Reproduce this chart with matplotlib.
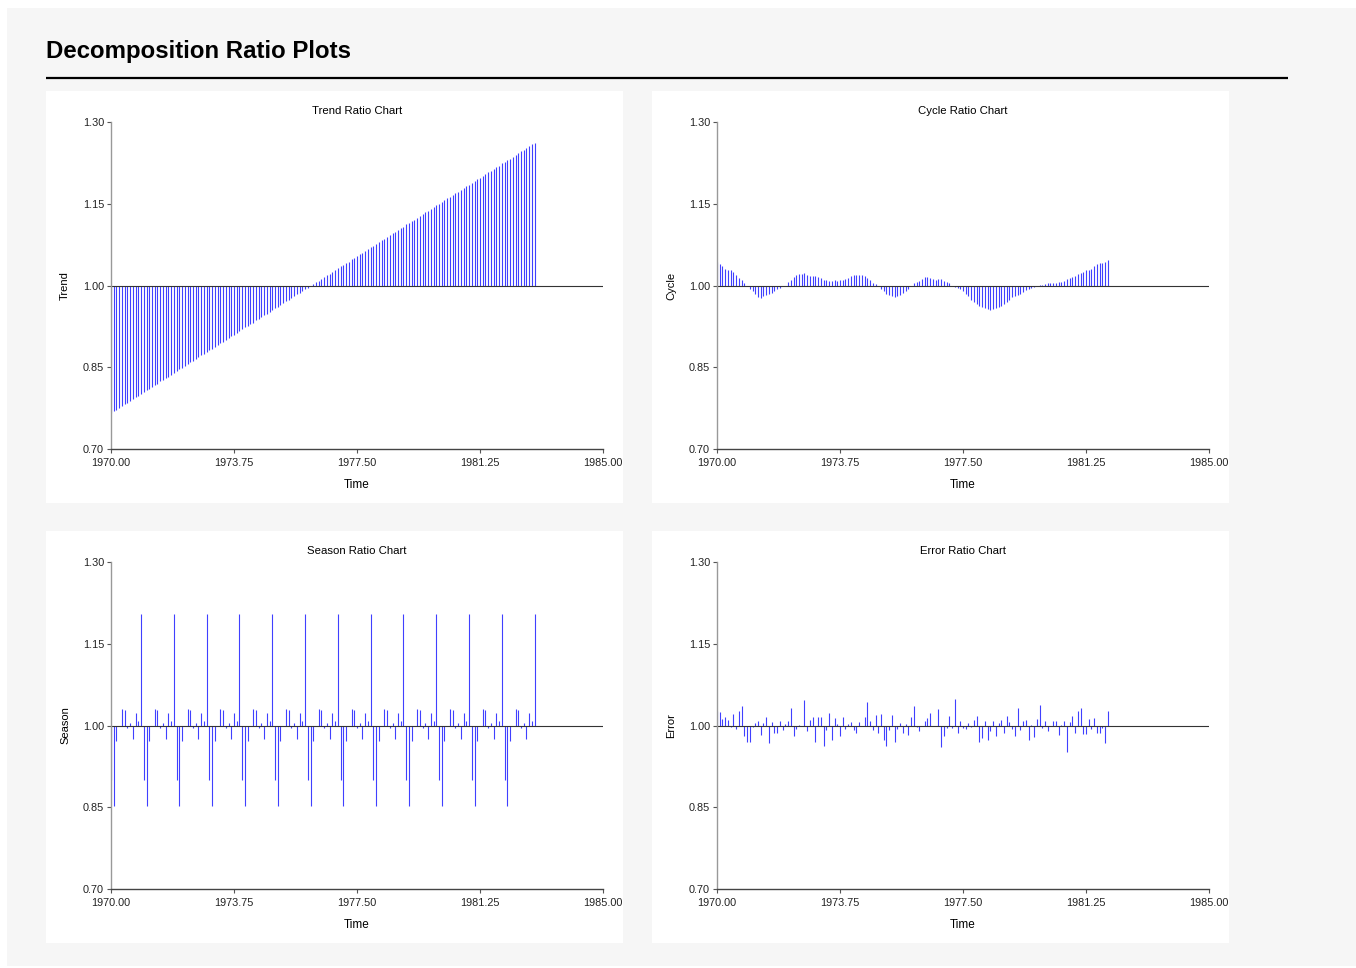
import matplotlib
matplotlib.use("Agg")
import matplotlib.pyplot as plt
from matplotlib.patches import Rectangle
from matplotlib.lines import Line2D
import numpy as np

plt.rcParams['font.family'] = ['Liberation Sans', 'DejaVu Sans']

# ---------------- data ----------------
start_year = 1970.0
months_per_year = 12

trend = [
    0.766, 0.769, 0.772, 0.776, 0.779, 0.782, 0.785, 0.788, 0.792, 0.795, 0.798, 0.801,
    0.804, 0.808, 0.811, 0.814, 0.817, 0.820, 0.824, 0.827, 0.830, 0.833, 0.836, 0.840,
    0.843, 0.846, 0.849, 0.852, 0.856, 0.859, 0.862, 0.865, 0.868, 0.872, 0.875, 0.878,
    0.881, 0.884, 0.888, 0.891, 0.894, 0.897, 0.900, 0.904, 0.907, 0.910, 0.913, 0.916,
    0.920, 0.923, 0.926, 0.929, 0.932, 0.936, 0.939, 0.942, 0.945, 0.948, 0.952, 0.955,
    0.958, 0.961, 0.964, 0.968, 0.971, 0.974, 0.977, 0.980, 0.984, 0.987, 0.990, 0.993,
    0.996, 1.000, 1.003, 1.006, 1.009, 1.012, 1.016, 1.019, 1.022, 1.025, 1.028, 1.032,
    1.035, 1.038, 1.041, 1.044, 1.048, 1.051, 1.054, 1.057, 1.060, 1.064, 1.067, 1.070,
    1.073, 1.076, 1.080, 1.083, 1.086, 1.089, 1.092, 1.096, 1.099, 1.102, 1.105, 1.108,
    1.112, 1.115, 1.118, 1.121, 1.124, 1.128, 1.131, 1.134, 1.137, 1.140, 1.144, 1.147,
    1.150, 1.153, 1.156, 1.160, 1.163, 1.166, 1.169, 1.172, 1.176, 1.179, 1.182, 1.185,
    1.188, 1.192, 1.195, 1.198, 1.201, 1.204, 1.208, 1.211, 1.214, 1.217, 1.220, 1.224,
    1.227, 1.230, 1.233, 1.236, 1.240, 1.243, 1.246, 1.249, 1.252, 1.256, 1.259, 1.262,
]

# seasonal factors Jan..Dec (same every year)
season_pattern = [0.900, 0.853, 0.971, 0.999, 1.030, 1.029,
                  0.996, 1.005, 0.975, 1.023, 1.008, 1.205]
n_years_season = 13

cycle = [
    1.044, 1.040, 1.035, 1.030, 1.028, 1.029, 1.025, 1.020, 1.013, 1.010, 1.004, 1.000,
    0.994, 0.990, 0.984, 0.979, 0.977, 0.980, 0.982, 0.984, 0.987, 0.990, 0.993, 0.996,
    0.999, 1.000, 1.007, 1.011, 1.015, 1.019, 1.021, 1.022, 1.023, 1.020, 1.018, 1.018,
    1.018, 1.016, 1.013, 1.011, 1.010, 1.009, 1.009, 1.010, 1.009, 1.010, 1.011, 1.012,
    1.014, 1.017, 1.020, 1.020, 1.020, 1.020, 1.018, 1.014, 1.010, 1.005, 1.002, 1.000,
    0.994, 0.990, 0.985, 0.982, 0.980, 0.979, 0.980, 0.983, 0.987, 0.990, 0.993, 1.000,
    1.004, 1.007, 1.009, 1.012, 1.016, 1.016, 1.014, 1.012, 1.011, 1.012, 1.012, 1.009,
    1.007, 1.004, 1.000, 0.997, 0.995, 0.993, 0.990, 0.985, 0.980, 0.974, 0.970, 0.966,
    0.962, 0.960, 0.958, 0.956, 0.955, 0.956, 0.958, 0.960, 0.963, 0.966, 0.970, 0.974,
    0.978, 0.980, 0.982, 0.985, 0.988, 0.991, 0.994, 0.996, 0.998, 0.999, 1.001, 1.001,
    1.002, 1.004, 1.005, 1.005, 1.005, 1.006, 1.007, 1.009, 1.012, 1.014, 1.015, 1.017,
    1.021, 1.023, 1.025, 1.029, 1.029, 1.031, 1.036, 1.040, 1.042, 1.042, 1.043, 1.046,
]

error = [
    1.026, 1.024, 1.012, 1.015, 1.010, 0.998, 1.021, 0.994, 1.026, 1.035, 0.980, 0.969,
    0.969, 0.997, 1.004, 1.008, 0.982, 1.005, 1.016, 0.968, 1.006, 0.986, 0.986, 1.008,
    0.991, 1.002, 1.008, 1.033, 0.981, 0.994, 1.001, 0.999, 1.047, 0.989, 1.010, 1.015,
    0.970, 1.015, 1.016, 0.963, 0.992, 1.023, 0.974, 1.013, 1.003, 0.981, 1.016, 0.994,
    1.002, 1.006, 0.992, 0.987, 1.006, 0.999, 1.016, 1.044, 1.009, 0.991, 1.019, 0.986,
    1.021, 0.973, 0.963, 0.991, 1.019, 0.969, 0.994, 1.004, 0.986, 1.003, 0.982, 1.015,
    1.035, 0.997, 0.990, 1.000, 1.009, 1.013, 1.023, 0.999, 0.999, 1.030, 0.960, 0.981,
    0.995, 1.018, 0.995, 1.048, 0.987, 1.008, 0.995, 0.994, 1.004, 0.998, 1.010, 1.018,
    0.970, 0.977, 1.008, 0.974, 0.989, 1.009, 0.981, 1.004, 1.010, 0.987, 1.018, 1.006,
    0.994, 0.980, 1.032, 0.992, 1.008, 1.010, 0.974, 1.001, 0.978, 1.012, 1.037, 0.996,
    1.008, 0.989, 0.999, 1.008, 1.008, 0.982, 1.001, 1.009, 0.951, 1.006, 1.018, 0.986,
    1.026, 1.032, 0.985, 0.985, 1.012, 0.994, 1.013, 0.986, 0.986, 0.996, 0.968, 1.027,
]

season = season_pattern * n_years_season
time_full = start_year + np.arange(len(trend)) / months_per_year
time_short = start_year + np.arange(len(cycle)) / months_per_year

chart_titles = ["Trend Ratio Chart", "Cycle Ratio Chart", "Season Ratio Chart", "Error Ratio Chart"]
y_labels = ["Trend", "Cycle", "Season", "Error"]
x_label = "Time"
y_ticks = [0.70, 0.85, 1.00, 1.15, 1.30]
x_ticks = [1970.00, 1973.75, 1977.50, 1981.25, 1985.00]
main_title = "Decomposition Ratio Plots"

# ---------------- layout ----------------
W, H = 1356, 968
fig = plt.figure(figsize=(W / 100, H / 100), dpi=100, facecolor='white')

def fx(px):
    return px / W

def fy(py):
    return 1 - py / H

# page background
fig.patches.append(Rectangle((fx(7), fy(966)), fx(1356 - 7), (966 - 8) / H,
                             transform=fig.transFigure, facecolor='#f6f6f6',
                             edgecolor='none', zorder=-10))

# title and rule
fig.text(fx(46), fy(58), main_title, fontsize=17.3, fontweight='bold',
         ha='left', va='baseline', color='black')
fig.lines.append(Line2D([fx(46), fx(1288)], [fy(78), fy(78)], transform=fig.transFigure,
                        color='black', lw=1.6, solid_capstyle='butt'))

panels = [(46, 91), (652, 91), (46, 531), (652, 531)]
panel_w, panel_h = 577, 412
series = [(time_full, trend), (time_short, cycle), (time_full, season), (time_short, error)]

bar_color = '#4040ff'
for k, ((px, py), (tx, vals)) in enumerate(zip(panels, series)):
    fig.patches.append(Rectangle((fx(px), fy(py + panel_h)), fx(panel_w), panel_h / H,
                                 transform=fig.transFigure, facecolor='white',
                                 edgecolor='none', zorder=-5))
    ax_left = px + 65
    ax_top = py + 31
    ax_w, ax_h = 492, 327
    ax = fig.add_axes([fx(ax_left), fy(ax_top + ax_h), fx(ax_w), ax_h / H])
    ax.set_facecolor('none')
    ax.vlines(tx, 1.0, vals, color=bar_color, lw=0.8)
    ax.axhline(1.0, color='#333333', lw=0.8)
    ax.set_xlim(1970, 1985)
    ax.set_ylim(0.70, 1.30)
    ax.set_xticks(x_ticks)
    ax.set_xticklabels([f"{v:.2f}" for v in x_ticks])
    ax.set_yticks(y_ticks)
    ax.set_yticklabels([f"{v:.2f}" for v in y_ticks])
    for s in ['top', 'right']:
        ax.spines[s].set_visible(False)
    ax.spines['left'].set_color('#999999')
    ax.spines['bottom'].set_color('#444444')
    ax.spines['left'].set_linewidth(1.0)
    ax.spines['bottom'].set_linewidth(1.0)
    ax.tick_params(axis='y', length=3, width=0.8, color='#555555', pad=2,
                   labelsize=7.8, labelcolor='#222222')
    ax.tick_params(axis='x', length=3, width=0.8, color='#555555', pad=3.5,
                   labelsize=7.8, labelcolor='#222222')
    ax.set_title(chart_titles[k], fontsize=8.2, pad=6, color='black')
    ax.set_xlabel(x_label, fontsize=8.5, color='black')
    ax.xaxis.set_label_coords(0.5, -(478.5 - 449) / 327)
    ax.set_ylabel(y_labels[k], fontsize=8, color='black')
    ax.yaxis.set_label_coords(-(111 - 70) / 492, 0.5)

fig.savefig("out.png", dpi=100, facecolor=fig.get_facecolor())
